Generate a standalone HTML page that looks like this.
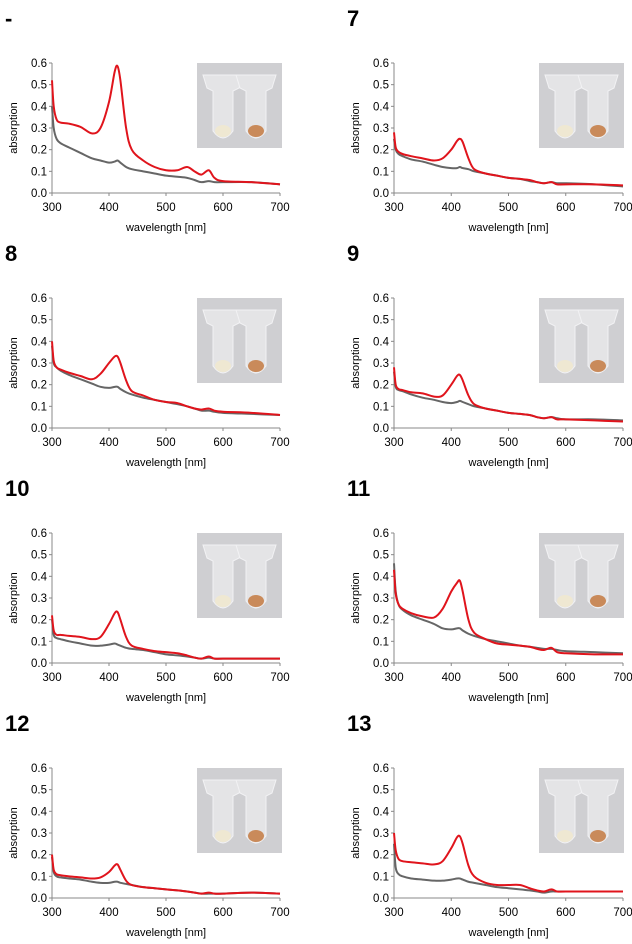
<!DOCTYPE html>
<html><head><meta charset="utf-8"><style>
html,body{margin:0;padding:0;background:#fff;}
svg{display:block;font-family:"Liberation Sans",Arial,sans-serif;}
</style></head><body>
<svg id="fig" width="632" height="944" viewBox="0 0 632 944"></svg>
<script>
const wavelengths=[300,303,308,315,330,350,370,385,400,410,415,420,430,440,460,480,500,520,537,550,562,575,585,600,650,700];
const panelLabels=["-","7","8","9","10","11","12","13"];
const redSeries=[
[0.52,0.40,0.34,0.325,0.32,0.305,0.275,0.30,0.42,0.56,0.585,0.52,0.30,0.20,0.15,0.12,0.105,0.105,0.12,0.10,0.085,0.105,0.07,0.055,0.05,0.04],
[0.28,0.21,0.19,0.18,0.17,0.16,0.15,0.16,0.20,0.24,0.25,0.235,0.16,0.11,0.09,0.08,0.07,0.065,0.06,0.05,0.045,0.05,0.04,0.04,0.04,0.035],
[0.40,0.31,0.28,0.27,0.255,0.24,0.225,0.25,0.30,0.33,0.33,0.30,0.22,0.17,0.15,0.13,0.12,0.115,0.10,0.09,0.085,0.09,0.08,0.075,0.07,0.06],
[0.28,0.20,0.18,0.175,0.165,0.16,0.145,0.15,0.20,0.24,0.245,0.22,0.15,0.11,0.09,0.08,0.07,0.065,0.06,0.05,0.045,0.05,0.04,0.04,0.035,0.03],
[0.22,0.15,0.13,0.13,0.125,0.12,0.11,0.12,0.18,0.23,0.235,0.20,0.12,0.08,0.065,0.055,0.05,0.045,0.035,0.025,0.02,0.03,0.02,0.02,0.02,0.02],
[0.43,0.32,0.27,0.25,0.23,0.215,0.21,0.25,0.33,0.37,0.38,0.33,0.20,0.14,0.11,0.09,0.085,0.08,0.075,0.065,0.06,0.07,0.05,0.045,0.04,0.04],
[0.20,0.13,0.11,0.105,0.10,0.095,0.09,0.095,0.12,0.15,0.155,0.13,0.08,0.06,0.05,0.045,0.04,0.035,0.03,0.025,0.02,0.025,0.02,0.02,0.025,0.02],
[0.30,0.22,0.18,0.17,0.165,0.16,0.155,0.17,0.23,0.28,0.285,0.25,0.15,0.10,0.07,0.06,0.06,0.06,0.045,0.035,0.03,0.04,0.03,0.03,0.03,0.03]
];
const graySeries=[
[0.40,0.30,0.25,0.23,0.21,0.185,0.16,0.15,0.14,0.145,0.15,0.14,0.12,0.11,0.10,0.09,0.08,0.075,0.07,0.06,0.05,0.055,0.05,0.05,0.05,0.04],
[0.25,0.20,0.18,0.17,0.155,0.145,0.13,0.12,0.115,0.115,0.12,0.115,0.11,0.10,0.09,0.08,0.07,0.065,0.055,0.05,0.045,0.05,0.045,0.045,0.04,0.03],
[0.38,0.30,0.28,0.265,0.245,0.225,0.205,0.19,0.185,0.19,0.19,0.18,0.165,0.155,0.14,0.13,0.12,0.11,0.10,0.09,0.08,0.08,0.075,0.07,0.065,0.06],
[0.26,0.19,0.175,0.17,0.155,0.14,0.13,0.12,0.115,0.12,0.125,0.12,0.11,0.10,0.09,0.08,0.07,0.065,0.06,0.05,0.045,0.05,0.045,0.04,0.04,0.035],
[0.20,0.13,0.115,0.11,0.10,0.09,0.08,0.08,0.085,0.09,0.085,0.08,0.07,0.065,0.06,0.05,0.04,0.035,0.03,0.025,0.02,0.025,0.02,0.02,0.02,0.02],
[0.46,0.33,0.27,0.245,0.22,0.20,0.18,0.16,0.155,0.16,0.16,0.15,0.135,0.125,0.11,0.10,0.09,0.08,0.075,0.07,0.065,0.065,0.06,0.055,0.05,0.045],
[0.19,0.12,0.10,0.095,0.09,0.085,0.075,0.07,0.07,0.075,0.075,0.07,0.065,0.06,0.05,0.045,0.04,0.035,0.03,0.025,0.02,0.02,0.02,0.02,0.025,0.02],
[0.25,0.14,0.11,0.10,0.09,0.085,0.08,0.08,0.085,0.09,0.09,0.085,0.075,0.07,0.06,0.05,0.045,0.04,0.035,0.03,0.025,0.03,0.03,0.03,0.03,0.03]
];
const yTicks=[0,0.1,0.2,0.3,0.4,0.5,0.6];
const yTickLabels=["0.0","0.1","0.2","0.3","0.4","0.5","0.6"];
const xTicks=[300,400,500,600,700];

const NS="http://www.w3.org/2000/svg";
const svg=document.getElementById('fig');
function mk(tag,attrs,parent){const e=document.createElementNS(NS,tag);for(const k in attrs)e.setAttribute(k,attrs[k]);(parent||svg).appendChild(e);return e;}
function smooth(pts){
  let d='M'+pts[0][0]+' '+pts[0][1];
  for(let k=0;k<pts.length-1;k++){
    const p0=pts[Math.max(0,k-1)],p1=pts[k],p2=pts[k+1],p3=pts[Math.min(pts.length-1,k+2)];
    const c1x=p1[0]+(p2[0]-p0[0])/6,c1y=p1[1]+(p2[1]-p0[1])/6;
    const c2x=p2[0]-(p3[0]-p1[0])/6,c2y=p2[1]-(p3[1]-p1[1])/6;
    d+=` C${c1x} ${c1y} ${c2x} ${c2y} ${p2[0]} ${p2[1]}`;
  }
  return d;
}

panelLabels.forEach((lab,i)=>{
  const col=i%2,row=Math.floor(i/2);
  const ox=col*342,oy=row*235;
  const L=52+ox,R=280+ox+(col?1:0),T=63+oy,B=193+oy;
  const xs=w=>L+(w-300)/400*(R-L);
  const ys=v=>B-v/0.6*(B-T);
  const g=mk('g',{});
  
  
  const pl=mk('text',{x:5+ox,y:26+oy,'font-size':22,'font-weight':'bold',fill:'#000'},g);
  
  
  pl.textContent=lab;
  const ph=mk('g',{},g);
  
  
  const px=197+ox,py=T;
  mk('rect',{x:px,y:py,width:85,height:85,fill:'#cfcfd2'},ph);
  [[px+12,'#efe8d2'],[px+45,'#c98a5a']].forEach(([tx,c])=>{
    mk('path',{d:`M${tx-6} ${py+12} L${tx+34} ${py+12} L${tx+30} ${py+25} L${tx+24} ${py+28} L${tx+24} ${py+68} Q${tx+14} ${py+82} ${tx+4} ${py+68} L${tx+4} ${py+28} L${tx-2} ${py+25} Z`,fill:'#e4e4e6',stroke:'#f2f2f4','stroke-width':1},ph);
    mk('ellipse',{cx:tx+14,cy:py+68,rx:8,ry:6,fill:c},ph);
  });
  const ax=mk('g',{},g);
  
  
  mk('line',{x1:L,y1:T,x2:L,y2:B,stroke:'#888','stroke-width':1},ax);
  mk('line',{x1:L,y1:B,x2:R,y2:B,stroke:'#888','stroke-width':1},ax);
  yTicks.forEach((v,k)=>{
    mk('line',{x1:L-3,y1:ys(v),x2:L,y2:ys(v),stroke:'#888'},ax);
    const t=mk('text',{x:L-5,y:ys(v)+4,'font-size':11.5,'text-anchor':'end',fill:'#000'},ax);
    
    
    t.textContent=yTickLabels[k];
  });
  xTicks.forEach(w=>{
    mk('line',{x1:xs(w),y1:B,x2:xs(w),y2:B+3,stroke:'#888'},ax);
    const t=mk('text',{x:xs(w),y:B+18,'font-size':11.5,'text-anchor':'middle',fill:'#000'},ax);
    
    
    t.textContent=w;
  });
  const xt=mk('text',{x:(L+R)/2,y:B+38,'font-size':11,'text-anchor':'middle',fill:'#000'},g);
  
  
  xt.textContent='wavelength [nm]';
  const yt=mk('text',{x:0,y:0,'font-size':11,'text-anchor':'middle',fill:'#000',transform:`translate(${17+ox},${(T+B)/2}) rotate(-90)`},g);
  
  
  yt.textContent='absorption';
  const gp=mk('path',{d:smooth(wavelengths.map((w,k)=>[xs(w),ys(graySeries[i][k])])),fill:'none',stroke:'#666','stroke-width':2,'stroke-linejoin':'round'},g);
  
  
  const rp=mk('path',{d:smooth(wavelengths.map((w,k)=>[xs(w),ys(redSeries[i][k])])),fill:'none',stroke:'#e0141c','stroke-width':2,'stroke-linejoin':'round'},g);
  
  
});
</script>
</body></html>
